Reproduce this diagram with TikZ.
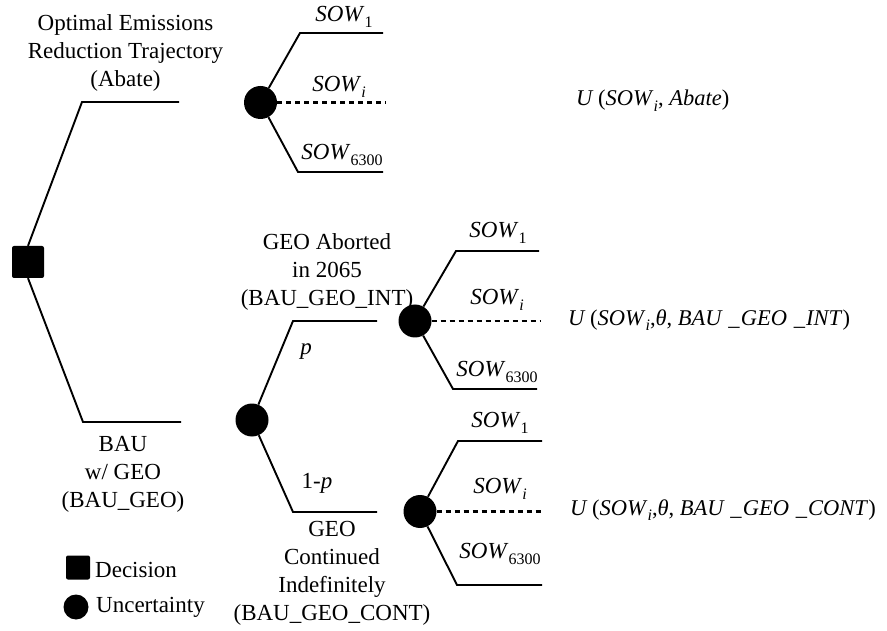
\documentclass[tikz,border=0pt]{standalone}
\usepackage{fontspec}
\setmainfont{Liberation Serif}
\newcommand\sub[1]{\raisebox{-0.25em}{\fontsize{16}{16}\selectfont #1}}
\newcommand\sw[1]{\textit{SOW}\sub{#1}}
\newcommand\usc{\hspace{0.3em}\_\hspace{0.05em}}
\begin{document}
\begin{tikzpicture}[x=1pt,y=-1pt,
  lbl/.style={font=\fontsize{23}{28}\selectfont, inner sep=0pt, align=center},
  ulbl/.style={font=\fontsize{22.5}{28}\selectfont, inner sep=0pt, anchor=west},
  br/.style={line width=1.9pt, line join=miter},
  dsh/.style={line width=2.2pt, dash pattern=on 5pt off 4pt},
  chance/.style={circle, fill=black, minimum size=33pt, inner sep=0pt},
  decision/.style={rectangle, fill=black, minimum size=32pt, rounded corners=2pt, inner sep=0pt}]
\useasboundingbox (0,0) rectangle (887,631);

% decision node
\node[decision] (dec) at (28,262) {};

% top (Abate) branch
\coordinate (a1) at (82,102);
\coordinate (a2) at (179,102);
\draw[br] (dec.north) -- (a1) -- (a2);
\node[lbl] (abateL) at (125.5,53) {Optimal Emissions\\Reduction Trajectory\\(Abate)};

\node[chance] (c1) at (260.5,102.5) {};
\coordinate (c1u) at (300,33);   \coordinate (c1ue) at (383,33);
\coordinate (c1me) at (386,102.5);
\coordinate (c1d) at (298,172);  \coordinate (c1de) at (383,172);
\draw[br] (c1) -- (c1u) -- (c1ue);
\draw[dsh] (c1.east) -- (c1me);
\draw[br] (c1) -- (c1d) -- (c1de);
\node[lbl] (c1l1) at (344,17) {\sw{1}};
\node[lbl] (c1l2) at (339,87) {\sw{\textit{i}}};
\node[lbl] (c1l3) at (342,155) {\sw{6300}};
\node[ulbl] (u1) at (576,101) {\textit{U}\hspace{0.2em}(\sw{\textit{i}}, \textit{Abate})};

% bottom (BAU_GEO) branch
\coordinate (b1) at (83,422);
\coordinate (b2) at (181,422);
\draw[br] (dec.south) -- (b1) -- (b2);
\node[lbl] (bauL) at (123,474) {BAU\\w/ GEO\\(BAU\_GEO)};

\node[chance] (c2) at (252,420) {};
\coordinate (c2u) at (293,321); \coordinate (c2ue) at (377,321);
\coordinate (c2d) at (293,512); \coordinate (c2de) at (377,512);
\draw[br] (c2) -- (c2u) -- (c2ue);
\draw[br] (c2) -- (c2d) -- (c2de);
\node[lbl] (pL) at (306,352) {\textit{p}};
\node[lbl] (qL) at (317,483) {1-\textit{p}};
\node[lbl] (intL) at (327,272) {GEO Aborted\\in 2065\\(BAU\_GEO\_INT)};
\node[lbl] (contL) at (332,573) {GEO\\Continued\\Indefinitely\\(BAU\_GEO\_CONT)};

% INT chance node
\node[chance] (c3) at (415,321) {};
\coordinate (c3u) at (456,251); \coordinate (c3ue) at (539,251);
\coordinate (c3me) at (540,321);
\coordinate (c3d) at (453,389); \coordinate (c3de) at (537,389);
\draw[br] (c3) -- (c3u) -- (c3ue);
\draw[dsh] (c3.east) -- (c3me);
\draw[br] (c3) -- (c3d) -- (c3de);
\node[lbl] (c3l1) at (498,233) {\sw{1}};
\node[lbl] (c3l2) at (497,300) {\sw{\textit{i}}};
\node[lbl] (c3l3) at (497,372) {\sw{6300}};
\node[ulbl] (u2) at (568,320) {\textit{U}\hspace{0.2em}(\sw{\textit{i}},\textit{θ}, \textit{BAU\usc GEO\usc INT})};

% CONT chance node
\node[chance] (c4) at (420,511.5) {};
\coordinate (c4u) at (458,441); \coordinate (c4ue) at (542,441);
\coordinate (c4me) at (544,511.5);
\coordinate (c4d) at (457,585); \coordinate (c4de) at (542,585);
\draw[br] (c4) -- (c4u) -- (c4ue);
\draw[dsh] (c4.east) -- (c4me);
\draw[br] (c4) -- (c4d) -- (c4de);
\node[lbl] (c4l1) at (500,423) {\sw{1}};
\node[lbl] (c4l2) at (500,489) {\sw{\textit{i}}};
\node[lbl] (c4l3) at (500,554) {\sw{6300}};
\node[ulbl] (u3) at (570,510) {\textit{U}\hspace{0.2em}(\sw{\textit{i}},\textit{θ}, \textit{BAU\usc GEO\usc CONT})};

% legend
\node[rectangle, fill=black, minimum size=24pt, rounded corners=2pt, inner sep=0pt] (legD) at (78,567.5) {};
\node[lbl, anchor=west] (legDt) at (95,570) {Decision};
\node[circle, fill=black, minimum size=25pt, inner sep=0pt] (legC) at (76,607) {};
\node[lbl, anchor=west] (legCt) at (96,607) {Uncertainty};
\end{tikzpicture}
\end{document}
